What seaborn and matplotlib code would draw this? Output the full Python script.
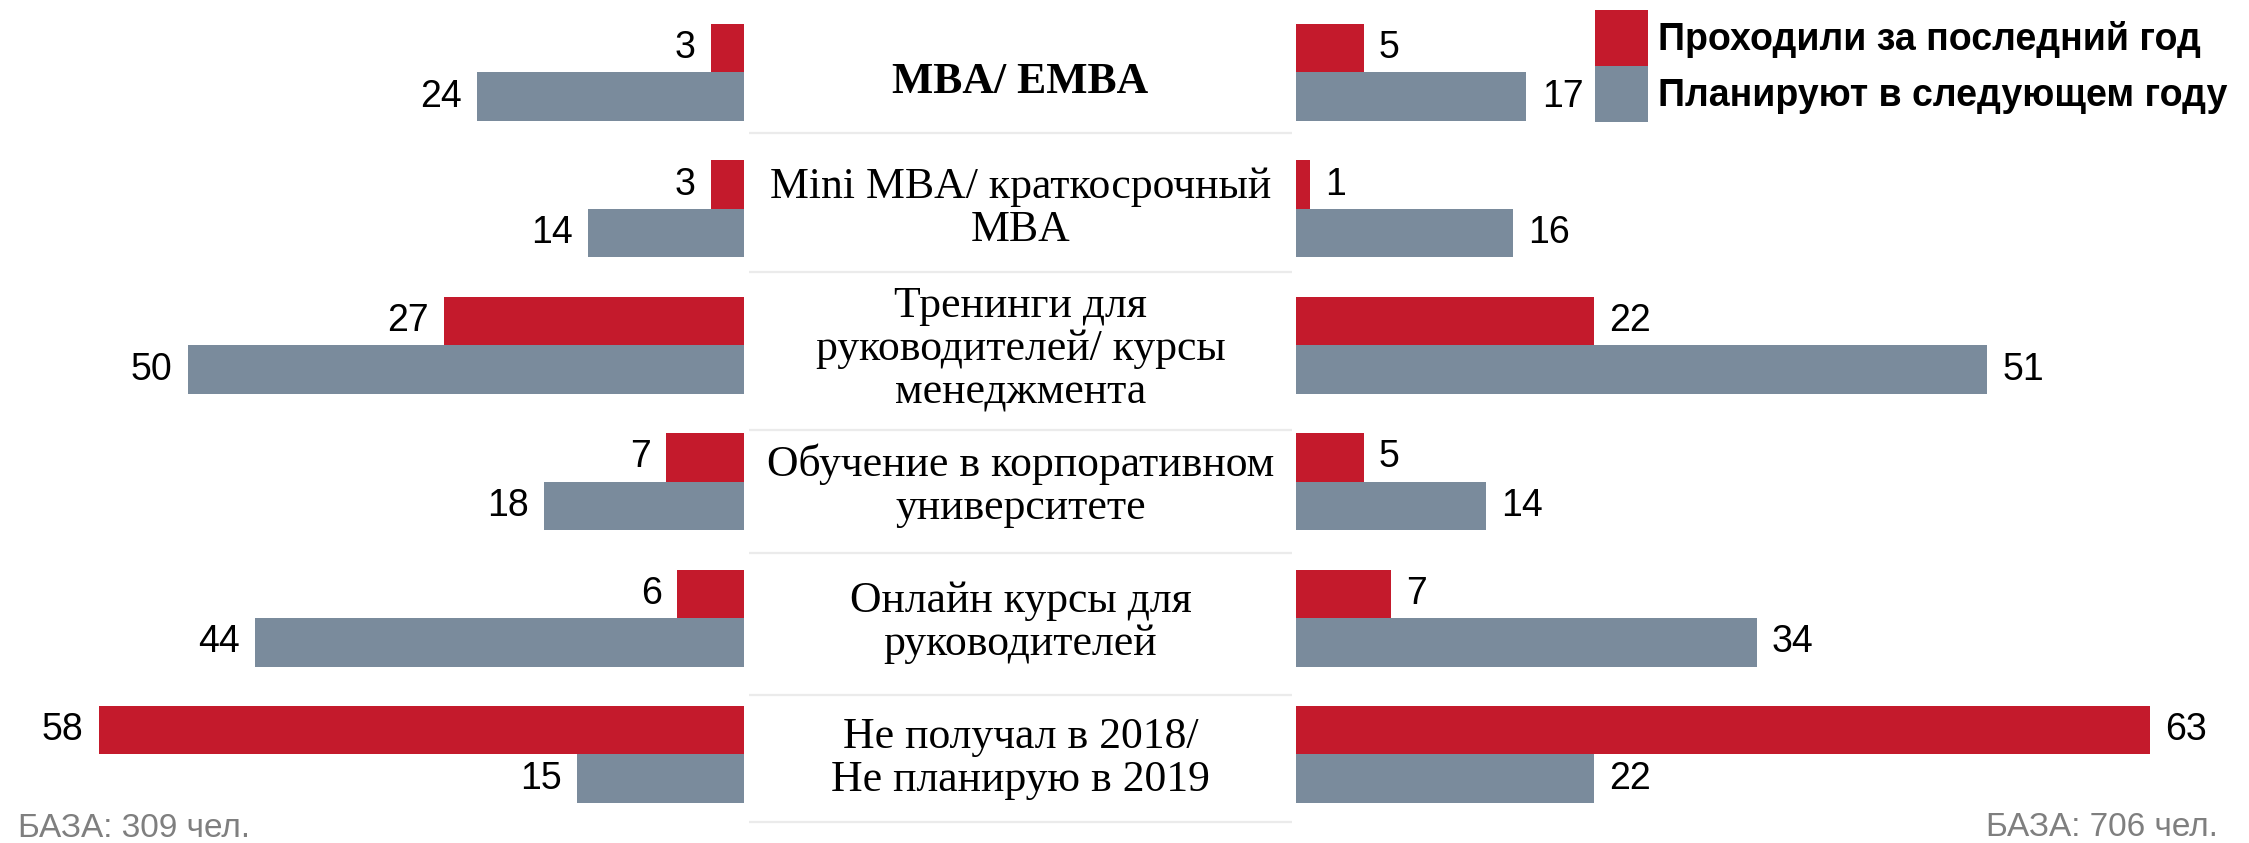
import matplotlib
matplotlib.use("Agg")
import matplotlib.pyplot as plt
from matplotlib.patches import Patch
import seaborn as sns
import pandas as pd

# ---- data ----
categories = [
    "MBA/ EMBA",
    "Mini MBA/ краткосрочный\nMBA",
    "Тренинги для\nруководителей/ курсы\nменеджмента",
    "Обучение в корпоративном\nуниверситете",
    "Онлайн курсы для\nруководителей",
    "Не получал в 2018/\nНе планирую в 2019",
]
series_names = ["Проходили за последний год", "Планируют в следующем году"]
left_passed = [3, 3, 27, 7, 6, 58]
left_planned = [24, 14, 50, 18, 44, 15]
right_passed = [5, 1, 22, 5, 7, 63]
right_planned = [17, 16, 51, 14, 34, 22]
left_base = "БАЗА: 309 чел."
right_base = "БАЗА: 706 чел."
colors = ["#C41A2C", "#7A8B9C"]


def long_df(passed, planned):
    return pd.DataFrame({
        "cat": categories * 2,
        "series": [series_names[0]] * len(categories) + [series_names[1]] * len(categories),
        "value": passed + planned,
    })


sns.set_theme(style="white")
plt.rcParams["font.family"] = ["Liberation Sans", "DejaVu Sans"]
plt.rcParams["text.color"] = "black"

W, H = 2249, 843
fig = plt.figure(figsize=(W / 100, H / 100), dpi=100)

ylim = (5.649, -0.5315)
palette = dict(zip(series_names, colors))

ax_l = fig.add_axes([0, 0, 744 / W, 1])
ax_r = fig.add_axes([1296 / W, 0, (W - 1296) / W, 1])
ax_m = fig.add_axes([749 / W, 0, (1292 - 749) / W, 1])

for ax, passed, planned, xmax, invert in [
    (ax_l, left_passed, left_planned, 66.9, True),
    (ax_r, right_passed, right_planned, 70.33, False),
]:
    sns.barplot(data=long_df(passed, planned), y="cat", x="value", hue="series",
                hue_order=series_names, order=categories, palette=palette,
                orient="h", width=0.711, saturation=1, errorbar=None,
                legend=False, ax=ax, linewidth=0)
    if invert:
        ax.set_xlim(xmax, 0)
    else:
        ax.set_xlim(0, xmax)
    ax.set_ylim(*ylim)
    for c in ax.containers:
        ax.bar_label(c, padding=11, fontsize=27, color="black",
                     family=["Liberation Sans", "DejaVu Sans"])
    ax.axis("off")

# middle column with category names and separators
ax_m.set_xlim(0, 1)
ax_m.set_ylim(*ylim)
ax_m.axis("off")
label_shift = [0.07, 0.0, 0.03, 0.03, 0.03, 0.03]
for i, cat in enumerate(categories):
    ax_m.text(0.5, i + label_shift[i], cat, ha="center", va="center", fontsize=31.5,
              family=["Liberation Serif", "DejaVu Serif"], color="black",
              fontweight="bold" if i == 0 else "normal", linespacing=1.1)
separators = [0.444, 1.463, 2.621, 3.523, 4.564, 5.495]
for s in separators:
    ax_m.axhline(s, color="#EBEBEB", linewidth=1.6)

# legend
handles = [Patch(facecolor=c, edgecolor="none") for c in colors]
leg = fig.legend(handles, series_names, loc="upper left",
                 bbox_to_anchor=(1595 / W, 1 - 10 / H), frameon=False,
                 borderpad=0, borderaxespad=0, labelspacing=0,
                 handlelength=1.42, handleheight=1.93, handletextpad=0.27,
                 labelcolor="black",
                 prop={"family": ["Liberation Sans", "DejaVu Sans"], "size": 27, "weight": "bold"})

fig.text(18 / W, 6 / H, left_base, ha="left", va="baseline", fontsize=24, color="#7F7F7F")
fig.text(2218 / W, 7 / H, right_base, ha="right", va="baseline", fontsize=24, color="#7F7F7F")

fig.savefig("out.png", dpi=100)
